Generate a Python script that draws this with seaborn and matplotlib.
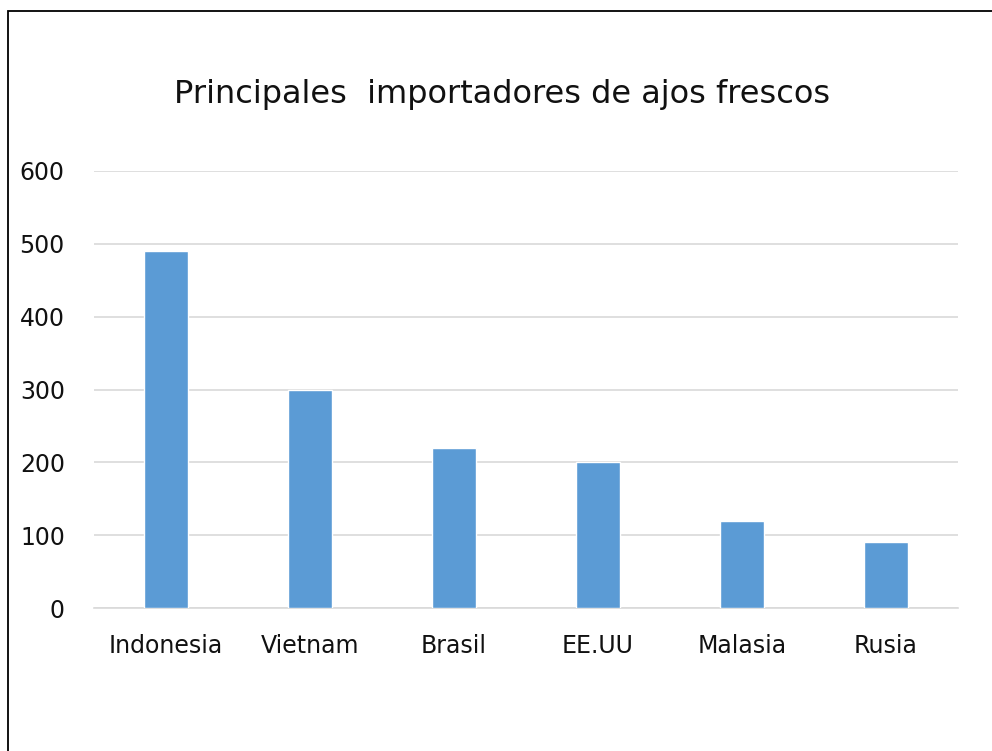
import matplotlib
matplotlib.use("Agg")
import matplotlib.pyplot as plt
import seaborn as sns
import pandas as pd
from matplotlib.patches import Rectangle

categories = ["Indonesia", "Vietnam", "Brasil", "EE.UU", "Malasia", "Rusia"]
values = [490, 300, 220, 200, 120, 90]
yticks = [0, 100, 200, 300, 400, 500, 600]
title = "Principales  importadores de ajos frescos"

sns.set_theme(style="white")
plt.rcParams['font.family'] = ['DejaVu Sans']

df = pd.DataFrame({"pais": categories, "valor": values})

fig = plt.figure(figsize=(9.92, 7.51), dpi=100)
ax = fig.add_axes([94/992, 1-608/751, (958-94)/992, (608-171)/751])
sns.barplot(data=df, x="pais", y="valor", color="#5b9bd5", saturation=1,
            width=0.31, ax=ax, zorder=3)
ax.set_ylim(0, 600)
ax.set_xlim(-0.5, len(categories)-0.5)
ax.set_yticks(yticks)
ax.set_yticklabels([str(t) for t in yticks])
ax.yaxis.grid(True, color="#d9d9d9", linewidth=1.2, zorder=0)
ax.set_axisbelow(True)
for s in ["top", "right", "left"]:
    ax.spines[s].set_visible(False)
ax.spines["bottom"].set_color("#d9d9d9")
ax.spines["bottom"].set_linewidth(1.2)
ax.set_xlabel("")
ax.set_ylabel("")
ax.tick_params(axis="y", length=0, pad=21, labelsize=17, labelcolor="#111111")
ax.tick_params(axis="x", length=0, pad=19, labelsize=17, labelcolor="#111111")

fig.text(502/992, 1-95/751, title, ha="center", va="center", fontsize=23, color="#111111")

fig.patches.append(Rectangle((8/992, -0.05), 1.1, 1-11/751+0.05, transform=fig.transFigure,
                             fill=False, edgecolor="black", linewidth=1.3))

fig.savefig("out.png", dpi=100)
